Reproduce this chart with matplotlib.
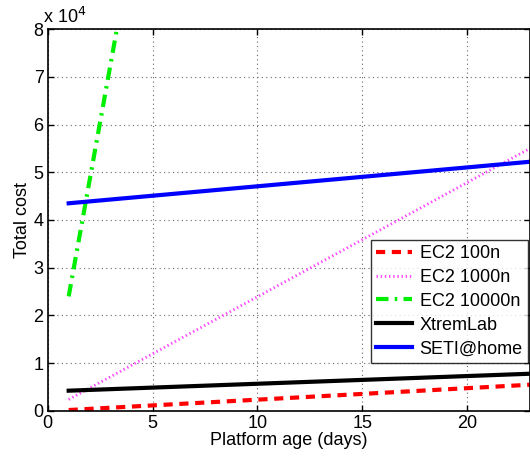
import matplotlib
matplotlib.use("Agg")
import matplotlib.pyplot as plt
from matplotlib.ticker import FuncFormatter, MultipleLocator

plt.rcParams['font.family'] = ['Liberation Sans', 'DejaVu Sans']

# Data
days_full = [1, 23]
ec2_100n = [200, 5500]
ec2_1000n = [2400, 55000]
days_10000 = [1, 3.3]
ec2_10000n = [24000, 80000]
xtremlab = [4250, 7800]
seti = [43500, 52200]

labels = ["EC2 100n", "EC2 1000n", "EC2 10000n", "XtremLab", "SETI@home"]
xticks = [0, 5, 10, 15, 20]

fig = plt.figure(figsize=(5.30, 4.57), dpi=100)
ax = fig.add_axes([0.09, 0.1007, 0.91, 0.8358])

ax.plot(days_full, ec2_100n, color='#ff0000', ls=(0, (2.2, 1.6)), lw=3, label=labels[0])
ax.plot(days_full, ec2_1000n, color='#ff44ff', ls=(0, (0.5, 1.0)), lw=2, label=labels[1])
ax.plot(days_10000, ec2_10000n, color='#00ee00', ls=(0, (3, 1.5, 0.6, 1.5)), lw=3, label=labels[2])
ax.plot(days_full, xtremlab, color='black', lw=3, label=labels[3])
ax.plot(days_full, seti, color='#0000ff', lw=3, label=labels[4])

ax.set_xlim(0, 23)
ax.set_ylim(0, 80000)
ax.set_xticks(xticks)
ax.yaxis.set_major_locator(MultipleLocator(10000))
ax.yaxis.set_major_formatter(FuncFormatter(lambda v, p: f"{v/1e4:g}"))
ax.tick_params(direction='in', length=4, width=1, labelsize=13, top=True, right=True, pad=3)
for s in ax.spines.values():
    s.set_linewidth(1.2)
ax.grid(True, ls=(0, (1, 3)), color='#666666', lw=0.8)

ax.set_xlabel("Platform age (days)", fontsize=13, labelpad=0)
ax.set_ylabel("Total cost", fontsize=13, labelpad=2)
ax.text(-0.01, 1.005, r"x 10$^4$", transform=ax.transAxes, fontsize=13, ha='left', va='bottom')

leg = ax.legend(loc='lower right', bbox_to_anchor=(0.996, 0.126), borderaxespad=0,
                fontsize=13, frameon=True, fancybox=False, edgecolor='black',
                handlelength=2.0, handletextpad=0.4, labelspacing=0.38, borderpad=0.3)
leg.get_frame().set_linewidth(1.0)

fig.savefig("out.png", dpi=100)
